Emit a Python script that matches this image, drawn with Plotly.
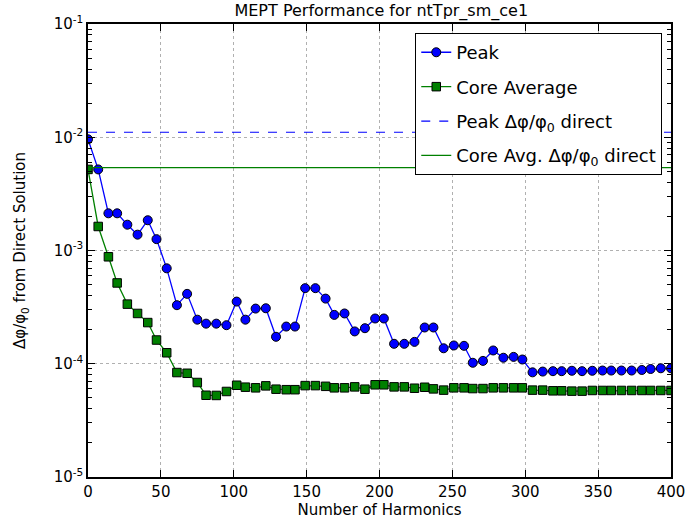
import plotly.graph_objects as go

harmonics = [0, 7, 14, 20, 27, 34, 41, 47, 54, 61, 68, 75, 81, 88, 95, 102, 108, 115, 122, 129,
             136, 142, 149, 156, 163, 169, 176, 183, 190, 197, 203, 210, 217, 224, 231, 237, 244, 251, 258, 264,
             271, 278, 285, 292, 298, 305, 312, 319, 325, 332, 339, 346, 353, 359, 366, 373, 380, 386, 393, 400]

peak = [9.6e-3, 5.2e-3, 2.13e-3, 2.13e-3, 1.69e-3, 1.38e-3, 1.85e-3, 1.26e-3, 6.96e-4, 3.29e-4,
        4.14e-4, 2.45e-4, 2.26e-4, 2.26e-4, 2.19e-4, 3.54e-4, 2.45e-4, 3.07e-4, 3.09e-4, 1.73e-4,
        2.13e-4, 2.13e-4, 4.65e-4, 4.65e-4, 3.76e-4, 2.70e-4, 2.78e-4, 1.93e-4, 2.06e-4, 2.51e-4,
        2.51e-4, 1.50e-4, 1.50e-4, 1.56e-4, 2.09e-4, 2.09e-4, 1.37e-4, 1.45e-4, 1.44e-4, 1.02e-4,
        1.06e-4, 1.31e-4, 1.13e-4, 1.15e-4, 1.09e-4, 8.40e-5, 8.53e-5, 8.60e-5, 8.60e-5, 8.67e-5,
        8.60e-5, 8.67e-5, 8.71e-5, 8.71e-5, 8.71e-5, 8.71e-5, 8.81e-5, 8.99e-5, 9.12e-5, 9.12e-5]

core_avg = [5.2e-3, 1.63e-3, 8.8e-4, 5.17e-4, 3.36e-4, 2.78e-4, 2.31e-4, 1.62e-4, 1.25e-4, 8.36e-5,
            8.24e-5, 6.83e-5, 5.27e-5, 5.25e-5, 5.69e-5, 6.46e-5, 6.21e-5, 6.13e-5, 6.38e-5, 5.96e-5,
            5.90e-5, 5.90e-5, 6.41e-5, 6.41e-5, 6.32e-5, 6.13e-5, 6.13e-5, 6.25e-5, 5.96e-5, 6.52e-5,
            6.52e-5, 6.25e-5, 6.25e-5, 6.08e-5, 6.20e-5, 6.00e-5, 5.85e-5, 6.13e-5, 6.13e-5, 6.04e-5,
            6.04e-5, 6.13e-5, 6.13e-5, 6.13e-5, 6.13e-5, 5.85e-5, 5.85e-5, 5.77e-5, 5.77e-5, 5.73e-5,
            5.73e-5, 5.81e-5, 5.81e-5, 5.81e-5, 5.81e-5, 5.81e-5, 5.81e-5, 5.81e-5, 5.81e-5, 5.81e-5]

peak_direct = 1.107e-2
core_direct = 5.4e-3
x_range = [0, 400]
y_tickvals = [1e-5, 1e-4, 1e-3, 1e-2, 1e-1]
y_ticktext = ["10<sup>-5</sup>", "10<sup>-4</sup>", "10<sup>-3</sup>", "10<sup>-2</sup>", "10<sup>-1</sup>"]
decades = [1e-5, 1e-4, 1e-3, 1e-2]
minor_mults = [2, 3, 4, 5, 6, 7, 8, 9]

font = "DejaVu Sans, Liberation Sans, sans-serif"
frac = "Δφ/φ<sub>0</sub>"

fig = go.Figure()
fig.add_trace(go.Scatter(
    x=harmonics, y=peak, mode="lines+markers", name="Peak", legendgroup="a",
    line=dict(color="#0000ff", width=1.3),
    marker=dict(symbol="circle", size=9, color="#0000ff", line=dict(color="black", width=1)),
))
fig.add_trace(go.Scatter(
    x=harmonics, y=core_avg, mode="lines+markers", name="Core Average", legendgroup="b",
    line=dict(color="#008000", width=1.3),
    marker=dict(symbol="square", size=8.5, color="#008000", line=dict(color="black", width=1)),
))
fig.add_trace(go.Scatter(
    x=x_range, y=[peak_direct, peak_direct], mode="lines", name="Peak " + frac + " direct",
    legendgroup="c",
    line=dict(color="#0000ff", width=1.2, dash="dash"),
))
fig.add_trace(go.Scatter(
    x=x_range, y=[core_direct, core_direct], mode="lines", name="Core Avg. " + frac + " direct",
    legendgroup="d",
    line=dict(color="#008000", width=1.2),
))

minor_vals = [d * m for d in decades for m in minor_mults]

fig.update_layout(
    width=687, height=523,
    margin=dict(l=88, r=16, t=24, b=46),
    paper_bgcolor="white", plot_bgcolor="white",
    font=dict(family=font, size=15, color="black"),
    title=dict(text="MEPT Performance for ntTpr_sm_ce1", x=0.555, xanchor="center",
               y=0.99, yanchor="top", font=dict(size=16)),
    showlegend=True,
    legend=dict(x=0.985, y=0.98, xanchor="right", yanchor="top",
                bgcolor="white", bordercolor="black", borderwidth=1,
                font=dict(size=18), tracegroupgap=8),
)
fig.update_xaxes(
    range=x_range, dtick=50, tick0=0, automargin=False,
    showline=True, linecolor="black", linewidth=1.5, mirror="allticks",
    ticks="inside", ticklen=7, tickcolor="black",
    showgrid=True, gridcolor="#b0b0b0", griddash="dot", gridwidth=1,
    zeroline=False,
    title=dict(text="Number of Harmonics", font=dict(size=15), standoff=0),
    tickfont=dict(size=15),
)
fig.update_yaxes(
    type="log", range=[-5, -1], tickmode="array", tickvals=y_tickvals, ticktext=y_ticktext,
    automargin=False,
    showline=True, linecolor="black", linewidth=1.5, mirror="allticks",
    ticks="inside", ticklen=7, tickcolor="black",
    minor=dict(tickmode="array", tickvals=minor_vals, ticks="inside", ticklen=4,
               tickcolor="black", showgrid=False),
    showgrid=True, gridcolor="#b0b0b0", griddash="dot", gridwidth=1,
    zeroline=False,
    title=dict(text=frac + " from Direct Solution", font=dict(size=15), standoff=24),
    tickfont=dict(size=15),
)

fig.write_html("out.html")
